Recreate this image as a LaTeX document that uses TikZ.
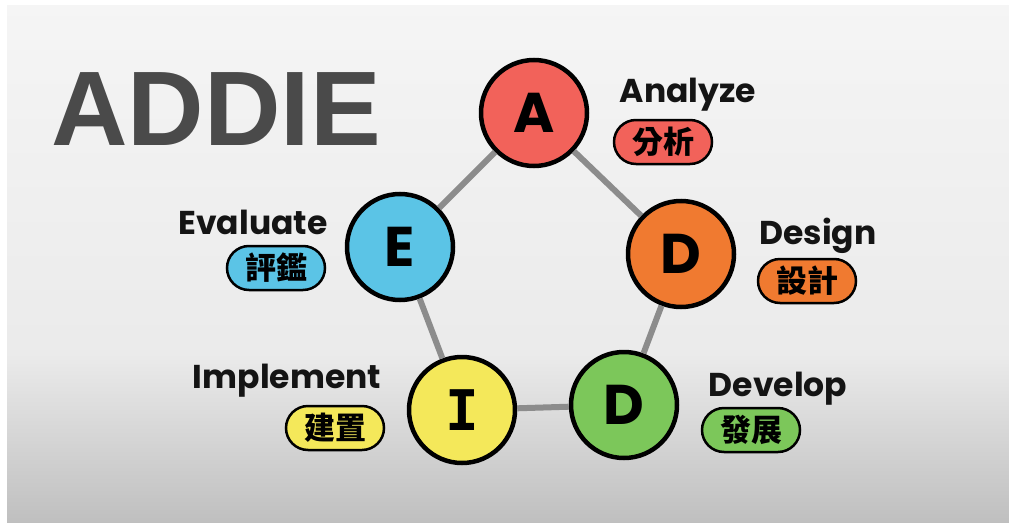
\documentclass[tikz,border=0pt]{standalone}
\usepackage{fontspec}
\setmainfont{Poppins}
\newfontfamily\cjk{Noto Sans CJK TC}
\newfontfamily\titlefont{Liberation Sans}
\newfontfamily\monoI{DejaVu Sans Mono}
\usetikzlibrary{shapes.misc}
\definecolor{cA}{HTML}{F2625A}
\definecolor{cD}{HTML}{F07A30}
\definecolor{cV}{HTML}{7CC75A}
\definecolor{cI}{HTML}{F4E85A}
\definecolor{cE}{HTML}{5BC4E6}
\definecolor{titlegray}{HTML}{4A4A4A}
\definecolor{linkgray}{HTML}{8C8C8C}
\begin{document}
\begin{tikzpicture}[x=1pt,y=-1pt,
  stage/.style={circle,draw=black,line width=4.5pt,minimum size=106pt,inner sep=0pt,font=\fontsize{56}{56}\selectfont\bfseries},
  lab/.style={font=\fontsize{33}{33}\selectfont\bfseries,inner sep=0pt,text=black!92},
  pill/.style={rounded rectangle,draw=black,line width=2.5pt,minimum width=98pt,minimum height=44pt,inner sep=0pt,font=\cjk\bfseries\fontsize{31}{31}\selectfont},
  conn/.style={draw=linkgray,line width=6pt}]
\useasboundingbox (0,0) rectangle (1009,522);
\fill[white] (0,0) rectangle (1009,522);
\shade[top color=white!96!black,bottom color=white!92!black] (7,5) rectangle (1009,355);
\shade[top color=white!92!black,bottom color=white!75!black] (7,355) rectangle (1009,522);
\node[font=\titlefont\bfseries\fontsize{106}{106}\selectfont,text=titlegray,inner sep=0pt] (title) at (216,109) {ADDIE};
\node[stage,fill=cA] (A) at (534,113) {A};
\node[stage,fill=cD] (D) at (681,254) {D};
\node[stage,fill=cV] (V) at (624,405) {D};
\node[stage,fill=cI,font=\monoI\bfseries\fontsize{56}{56}\selectfont] (I) at (462,410) {I};
\node[stage,fill=cE] (E) at (400,247) {E};
\draw[conn] (A) -- (D);
\draw[conn] (D) -- (V);
\draw[conn] (V) -- (I);
\draw[conn] (I) -- (E);
\draw[conn] (E) -- (A);
\node[lab] (tA) at (688,95) {Analyze};
\node[pill,fill=cA] (pA) at (663,142) {分析};
\node[lab] (tD) at (818,236) {Design};
\node[pill,fill=cD] (pD) at (807,281) {設計};
\node[lab] (tV) at (778,389) {Develop};
\node[pill,fill=cV] (pV) at (751,430) {發展};
\node[lab] (tI) at (287,381) {Implement};
\node[pill,fill=cI] (pI) at (335,428) {建置};
\node[lab] (tE) at (253,222) {Evaluate};
\node[pill,fill=cE] (pE) at (276,268) {評鑑};
\end{tikzpicture}
\end{document}
